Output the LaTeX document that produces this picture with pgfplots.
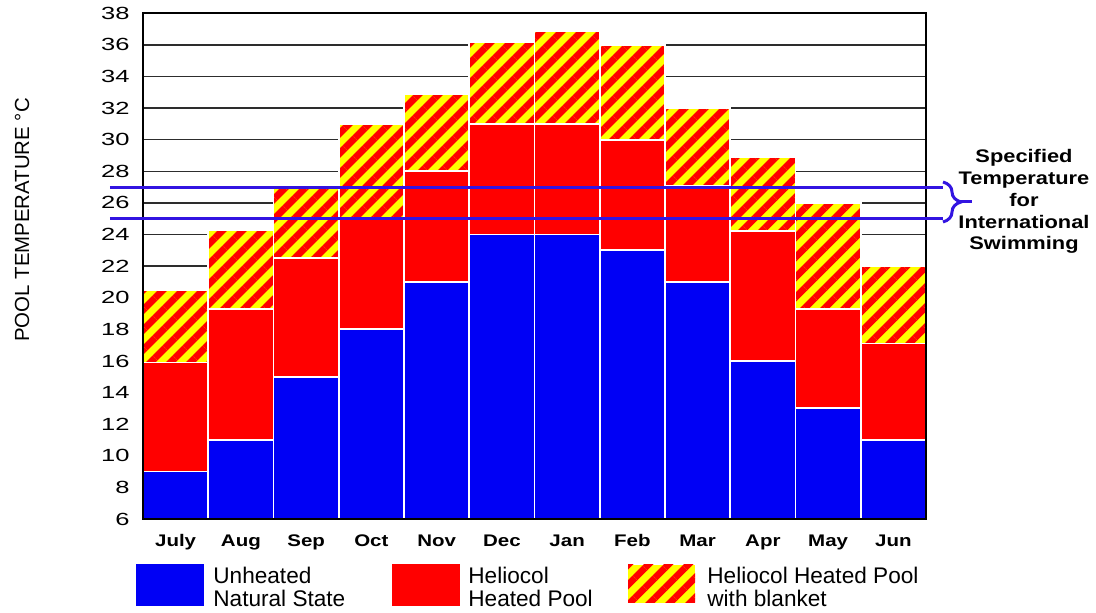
\documentclass[border=0pt]{standalone}
\usepackage{fontspec}
\setmainfont{Liberation Sans}
\newfontfamily\tickfont[FakeStretch=1.45]{Liberation Sans}
\newfontfamily\xfont[FakeStretch=1.22]{Liberation Sans}
\newfontfamily\annfont[FakeStretch=1.2]{Liberation Sans}
\usepackage{pgfplots}
\pgfplotsset{compat=1.18}
\usetikzlibrary{patterns.meta,decorations.pathreplacing}
\definecolor{cblue}{RGB}{0,0,245}
\definecolor{cred}{RGB}{255,0,0}
\definecolor{cyel}{RGB}{255,255,0}
\definecolor{lineblue}{RGB}{50,20,225}
\definecolor{gridc}{RGB}{45,45,45}

\begin{document}
\begin{tikzpicture}
\useasboundingbox (0,0) rectangle (548pt,306.5pt);
\begin{axis}[
  at={(71.5pt,47pt)}, anchor=south west,
  scale only axis, width=391.5pt, height=252.85pt,
  xmin=-0.5, xmax=11.5, ymin=6, ymax=38,
  ytick={6,8,...,38},
  xtick={0,...,11},
  xticklabels={July,Aug,Sep,Oct,Nov,Dec,Jan,Feb,Mar,Apr,May,Jun},
  ymajorgrids, grid style={gridc, line width=0.75pt},
  major tick length=0pt,
  axis line style={draw=none},
  /pgf/number format/assume math mode=true,
  yticklabel style={font=\tickfont\fontsize{8.8}{10}\selectfont, anchor=east, inner sep=0pt, xshift=-6.5pt},
  xticklabel style={font=\xfont\bfseries\fontsize{8.4}{10}\selectfont, anchor=base, inner sep=0pt, yshift=-14pt},
  ybar, bar width=1,
]
% Heliocol heated pool with blanket (top of bar)
\addplot[bar shift=0pt, draw=white, line width=0.9pt, preaction={fill=cyel},
  pattern={Lines[angle=45,distance=7.07pt,line width=3.4pt]}, pattern color=cred]
  coordinates {(0,20.5) (1,24.3) (2,27) (3,31) (4,32.9) (5,36.2) (6,36.9) (7,36) (8,32) (9,28.9) (10,26) (11,22)};
% Heliocol heated pool
\addplot[bar shift=0pt, draw=white, line width=0.9pt, fill=cred]
  coordinates {(0,15.9) (1,19.3) (2,22.5) (3,25) (4,28) (5,31) (6,31) (7,30) (8,27.1) (9,24.2) (10,19.3) (11,17.1)};
% Unheated natural state
\addplot[bar shift=0pt, draw=white, line width=0.9pt, fill=cblue]
  coordinates {(0,9) (1,11) (2,15) (3,18) (4,21) (5,24) (6,24) (7,23) (8,21) (9,16) (10,13) (11,11)};
\end{axis}
\begin{axis}[
  at={(71.5pt,47pt)}, anchor=south west,
  scale only axis, width=391.5pt, height=252.85pt,
  xmin=-0.5, xmax=11.5, ymin=6, ymax=38,
  xtick=\empty, ytick=\empty, clip=false,
  axis line style={black, line width=0.9pt},
]
\addplot[lineblue, line width=1.5pt] coordinates {(-1.006,27) (11.76,27)};
\addplot[lineblue, line width=1.5pt] coordinates {(-1.006,25) (11.76,25)};
\end{axis}
% brace
\draw[lineblue, line width=1.5pt, decorate, decoration={brace, amplitude=9pt}] (471.5pt,215.5pt) -- (471.5pt,195.5pt);
\draw[lineblue, line width=1.5pt] (480pt,205.5pt) -- (486pt,205.5pt);
% annotation
\begin{scope}[every node/.style={anchor=base, inner sep=0pt, font=\annfont\bfseries\fontsize{9.1}{10.85}\selectfont}]
\node at (512pt,225pt) {Specified};
\node at (512pt,214pt) {Temperature};
\node at (512pt,203pt) {for};
\node at (512pt,192pt) {International};
\node at (512pt,181.5pt) {Swimming};
\end{scope}
% y label
\node[rotate=90, inner sep=0pt, font=\fontsize{10.2}{12}\selectfont] at (11pt,196.5pt) {POOL TEMPERATURE °C};
% legend
\fill[cblue] (68pt,3.5pt) rectangle (102pt,24.5pt);
\fill[cred] (196pt,3.5pt) rectangle (230pt,24.5pt);
\fill[cyel] (314pt,5pt) rectangle (347.5pt,24pt);
\fill[pattern={Lines[angle=45,distance=7.07pt,line width=3.4pt]}, pattern color=cred] (314pt,5pt) rectangle (347.5pt,24pt);
\begin{scope}[every node/.style={anchor=base west, inner sep=0pt, font=\fontsize{11.3}{13}\selectfont}]
\node at (106.5pt,14.5pt) {Unheated};
\node at (106.5pt,3pt) {Natural State};
\node at (234pt,14.5pt) {Heliocol};
\node at (234pt,3pt) {Heated Pool};
\node at (353.5pt,14.5pt) {Heliocol Heated Pool};
\node at (353.5pt,3pt) {with blanket};
\end{scope}
\end{tikzpicture}
\end{document}
